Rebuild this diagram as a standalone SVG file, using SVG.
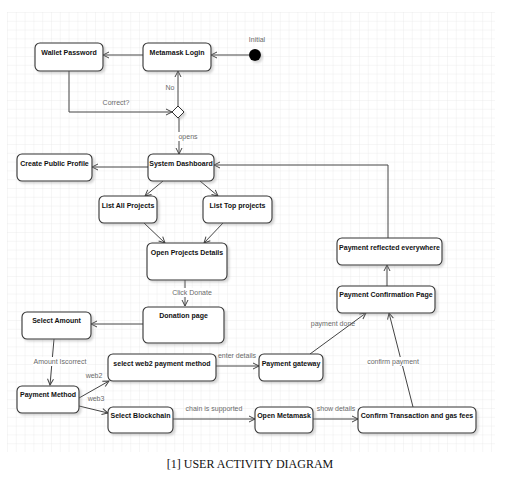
<svg xmlns="http://www.w3.org/2000/svg" width="519" height="477" viewBox="0 0 519 477">
<defs>
<pattern id="grid" x="7" y="12" width="8.8" height="8.8" patternUnits="userSpaceOnUse">
<path d="M0,0 H8.8 M0,0 V8.8" fill="none" stroke="#e8e8e8" stroke-width="0.8"/>
</pattern>
<filter id="sh" x="-10%" y="-10%" width="130%" height="140%">
<feDropShadow dx="2" dy="2" stdDeviation="1" flood-color="#888" flood-opacity="0.35"/>
</filter>
<marker id="arr" markerWidth="8" markerHeight="8" refX="7" refY="4" orient="auto" markerUnits="userSpaceOnUse">
<path d="M1,1 L7,4 L1,7" fill="none" stroke="#444" stroke-width="1"/>
</marker>
<style>
.node{fill:#fff;stroke:#333;stroke-width:1.1;filter:url(#sh)}
.t{font-family:"Liberation Sans",Arial,sans-serif;font-size:7px;font-weight:bold;fill:#111;text-anchor:middle}
.lbl{font-family:"Liberation Sans",Arial,sans-serif;font-size:7px;fill:#6a6a6a;text-anchor:middle}
.bg{fill:#fff}
.c{fill:none;stroke:#444;stroke-width:1;marker-end:url(#arr)}
</style>
</defs>
<rect width="519" height="477" fill="#fff"/>
<rect x="7" y="12" width="488" height="440" fill="url(#grid)"/>

<g id="connectors">
<path class="c" d="M249,55 L211,55"/>
<path class="c" d="M143,55 L103,55"/>
<path class="c" d="M69,71 L69,112 L172,112"/>
<path class="c" d="M178,106 L178,71"/>
<path class="c" d="M179,118 L179,154"/>
<path class="c" d="M148,167 L92,167"/>
<path class="c" d="M163,181 L145,196"/>
<path class="c" d="M200,181 L218,196"/>
<path class="c" d="M144,223 L165,243"/>
<path class="c" d="M223,223 L204,243"/>
<path class="c" d="M185,280 L185,306"/>
<path class="c" d="M143,324 L91,324"/>
<path class="c" d="M54,339 L50,385"/>
<path class="c" d="M79,398 L109,381"/>
<path class="c" d="M79,406 L108,413"/>
<path class="c" d="M216,366 L259,366"/>
<path class="c" d="M173,419 L255,419"/>
<path class="c" d="M313,419 L358,419"/>
<path class="c" d="M310,354 L366,313"/>
<path class="c" d="M413,407 L389,313"/>
<path class="c" d="M387,286 L387,265"/>
<path class="c" d="M388,238 L388,165 L214,165"/>
<g id="connector-labels">
<text class="lbl" x="116" y="105">Correct?</text>
<text class="lbl" x="170" y="90">No</text>
<rect class="bg" x="178" y="132" width="20" height="9"/>
<text class="lbl" x="188" y="139">opens</text>
<rect class="bg" x="172" y="288" width="40" height="9"/>
<text class="lbl" x="192" y="295">Click Donate</text>
<rect class="bg" x="33" y="357" width="54" height="9"/>
<text class="lbl" x="60" y="364">Amount Iscorrect</text>
<text class="lbl" x="94" y="378">web2</text>
<text class="lbl" x="96" y="401">web3</text>
<text class="lbl" x="237" y="358">enter details</text>
<text class="lbl" x="214" y="411">chain is supported</text>
<text class="lbl" x="336" y="411">show details</text>
<text class="lbl" x="333" y="326">payment done</text>
<rect class="bg" x="367" y="357" width="52" height="9"/>
<text class="lbl" x="393" y="364">confirm payment</text>
</g>
</g>

<g id="initial">
<circle cx="255" cy="55" r="6" fill="#000" filter="url(#sh)"/>
<text class="lbl" x="257" y="42">Initial</text>
</g>
<g id="decision">
<polygon points="178,106 184,112 178,118 172,112" fill="#fff" stroke="#333" stroke-width="1" filter="url(#sh)"/>
</g>
<g id="wallet-password">
<rect class="node" x="35" y="43" width="68" height="28" rx="5"/>
<text class="t" x="69" y="54.5">Wallet Password</text>
</g>
<g id="metamask-login">
<rect class="node" x="143" y="43" width="68" height="28" rx="5"/>
<text class="t" x="177" y="54.5">Metamask Login</text>
</g>
<g id="system-dashboard">
<rect class="node" x="148" y="154" width="66" height="27" rx="5"/>
<text class="t" x="181" y="165.5">System Dashboard</text>
</g>
<g id="create-public-profile">
<rect class="node" x="17" y="154" width="75" height="27" rx="5"/>
<text class="t" x="54.5" y="165.5">Create Public Profile</text>
</g>
<g id="list-all-projects">
<rect class="node" x="99" y="196" width="58" height="27" rx="5"/>
<text class="t" x="128" y="207.5">List All Projects</text>
</g>
<g id="list-top-projects">
<rect class="node" x="203" y="196" width="69" height="27" rx="5"/>
<text class="t" x="237.5" y="207.5">List Top projects</text>
</g>
<g id="open-projects-details">
<rect class="node" x="147" y="243" width="80" height="37" rx="5"/>
<text class="t" x="187" y="254.5">Open Projects Details</text>
</g>
<g id="donation-page">
<rect class="node" x="143" y="307" width="81" height="36" rx="5"/>
<text class="t" x="183.5" y="317.5">Donation page</text>
</g>
<g id="select-amount">
<rect class="node" x="22" y="312" width="69" height="27" rx="5"/>
<text class="t" x="56.5" y="322.5">Select Amount</text>
</g>
<g id="payment-method">
<rect class="node" x="17" y="386" width="62" height="27" rx="5"/>
<text class="t" x="48" y="396.5">Payment Method</text>
</g>
<g id="select-web2">
<rect class="node" x="108" y="354" width="108" height="27" rx="5"/>
<text class="t" x="162" y="365.5">select web2 payment method</text>
</g>
<g id="select-blockchain">
<rect class="node" x="108" y="407" width="65" height="26" rx="5"/>
<text class="t" x="140.5" y="417.5">Select Blockchain</text>
</g>
<g id="payment-gateway">
<rect class="node" x="259" y="354" width="64" height="27" rx="5"/>
<text class="t" x="291" y="365.5">Payment gateway</text>
</g>
<g id="open-metamask">
<rect class="node" x="255" y="407" width="58" height="26" rx="5"/>
<text class="t" x="284" y="417.5">Open Metamask</text>
</g>
<g id="confirm-transaction">
<rect class="node" x="358" y="407" width="118" height="26" rx="5"/>
<text class="t" x="417" y="417.5">Confirm Transaction and gas fees</text>
</g>
<g id="payment-confirmation-page">
<rect class="node" x="337" y="286" width="98" height="27" rx="5"/>
<text class="t" x="386" y="296.5">Payment Confirmation Page</text>
</g>
<g id="payment-reflected">
<rect class="node" x="337" y="238" width="105" height="27" rx="5"/>
<text class="t" x="389.5" y="249.5">Payment reflected everywhere</text>
</g>

<text x="250" y="468" font-family="'Liberation Serif','Times New Roman',serif" font-size="12" fill="#111" text-anchor="middle">[1] USER ACTIVITY DIAGRAM</text>
</svg>
